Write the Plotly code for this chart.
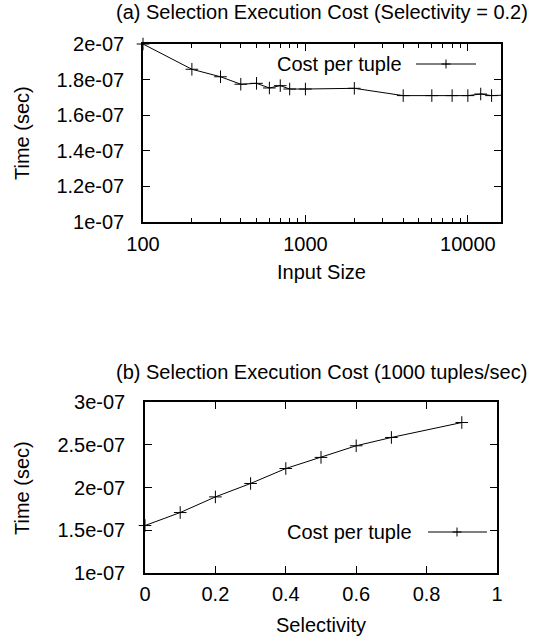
import plotly.graph_objects as go

# ---- data ----
input_sizes = [100, 200, 300, 400, 500, 600, 700, 800, 1000, 2000, 4000, 6000, 8000, 10000, 12000, 14000, 16000]
cost_a = [2.0e-7, 1.858e-7, 1.816e-7, 1.774e-7, 1.779e-7, 1.753e-7, 1.766e-7, 1.747e-7, 1.747e-7,
          1.751e-7, 1.710e-7, 1.710e-7, 1.710e-7, 1.710e-7, 1.719e-7, 1.710e-7, 1.712e-7]

selectivity = [0.0, 0.1, 0.2, 0.3, 0.4, 0.5, 0.6, 0.7, 0.9]
cost_b = [1.555e-7, 1.707e-7, 1.890e-7, 2.047e-7, 2.222e-7, 2.352e-7, 2.488e-7, 2.585e-7, 2.760e-7]

ya_vals = [1e-7, 1.2e-7, 1.4e-7, 1.6e-7, 1.8e-7, 2e-7]
ya_text = ["1e-07", "1.2e-07", "1.4e-07", "1.6e-07", "1.8e-07", "2e-07"]
xa_vals = [100, 1000, 10000]
xa_text = ["100", "1000", "10000"]
xa_minor = [200, 300, 400, 500, 600, 700, 800, 900, 2000, 3000, 4000, 5000, 6000, 7000, 8000, 9000]

yb_vals = [1e-7, 1.5e-7, 2e-7, 2.5e-7, 3e-7]
yb_text = ["1e-07", "1.5e-07", "2e-07", "2.5e-07", "3e-07"]
xb_vals = [0, 0.2, 0.4, 0.6, 0.8, 1.0]
xb_text = ["0", "0.2", "0.4", "0.6", "0.8", "1"]

legend_label = "Cost per tuple"
title_a = "(a) Selection Execution Cost (Selectivity = 0.2)"
title_b = "(b) Selection Execution Cost (1000 tuples/sec)"

# ---- geometry ----
W, H = 537, 640
FONT = dict(family="Liberation Sans, Arial, sans-serif", size=20, color="black")

def px_x(v):
    return v / W

def px_y(v):
    return 1 - v / H

A = dict(l=143, r=501, t=44, b=222)
B = dict(l=145, r=497, t=402, b=573)

fig = go.Figure()

line_style = dict(color="black", width=1)
marker_style = dict(symbol="cross-thin", size=9, line=dict(color="black", width=1), color="black")

fig.add_trace(go.Scatter(x=input_sizes, y=cost_a, mode="lines+markers", line=line_style,
                         marker=marker_style, xaxis="x", yaxis="y", showlegend=False, cliponaxis=False))
fig.add_trace(go.Scatter(x=selectivity, y=cost_b, mode="lines+markers", line=line_style,
                         marker=marker_style, xaxis="x2", yaxis="y2", showlegend=False, cliponaxis=False))

axis_common = dict(showline=True, linecolor="black", linewidth=1.5, mirror="allticks",
                   ticks="inside", ticklen=7, tickwidth=1, tickcolor="black", automargin=False,
                   showgrid=False, zeroline=False, tickfont=FONT)

fig.update_layout(
    template="none",
    width=W, height=H,
    margin=dict(l=0, r=0, t=0, b=0, autoexpand=False),
    paper_bgcolor="white", plot_bgcolor="white",
    font=FONT,
    xaxis=dict(domain=[px_x(A["l"]), px_x(A["r"])], anchor="y", type="log",
               range=[2, 4.2041], tickvals=xa_vals, ticktext=xa_text,
               minor=dict(tickvals=xa_minor, ticks="inside", ticklen=4, tickcolor="black", tickwidth=1),
               ticklabelstandoff=3, **axis_common),
    yaxis=dict(domain=[px_y(A["b"]), px_y(A["t"])], anchor="x", range=[1e-7, 2e-7],
               tickvals=ya_vals, ticktext=ya_text, ticklabelstandoff=13, **axis_common),
    xaxis2=dict(domain=[px_x(B["l"]), px_x(B["r"])], anchor="y2", range=[0, 1],
                tickvals=xb_vals, ticktext=xb_text, ticklabelstandoff=2, **axis_common),
    yaxis2=dict(domain=[px_y(B["b"]), px_y(B["t"])], anchor="x2", range=[1e-7, 3e-7],
                tickvals=yb_vals, ticktext=yb_text, ticklabelstandoff=14, **axis_common),
)

annotations = [
    dict(text=title_a, x=px_x(322), y=px_y(12), xanchor="center", yanchor="middle"),
    dict(text=title_b, x=px_x(321), y=px_y(372), xanchor="center", yanchor="middle"),
    dict(text="Time (sec)", x=px_x(22), y=px_y(133), textangle=-90, xanchor="center", yanchor="middle"),
    dict(text="Time (sec)", x=px_x(22), y=px_y(488), textangle=-90, xanchor="center", yanchor="middle"),
    dict(text="Input Size", x=px_x(321), y=px_y(272), xanchor="center", yanchor="middle"),
    dict(text="Selectivity", x=px_x(321), y=px_y(625), xanchor="center", yanchor="middle"),
    dict(text=legend_label, x=px_x(404), y=px_y(64), xanchor="right", yanchor="middle"),
    dict(text=legend_label, x=px_x(414), y=px_y(532), xanchor="right", yanchor="middle"),
]
for a in annotations:
    a.update(xref="paper", yref="paper", showarrow=False, font=FONT)
fig.update_layout(annotations=annotations)

# legend samples (line + cross)
shapes = []
for (x0, x1, xm, yy) in [(416, 476, 446, 64), (428, 487, 457, 532)]:
    shapes.append(dict(type="line", xref="paper", yref="paper", x0=px_x(x0), x1=px_x(x1),
                       y0=px_y(yy), y1=px_y(yy), line=dict(color="black", width=1)))
    shapes.append(dict(type="line", xref="paper", yref="paper", x0=px_x(xm - 4.5), x1=px_x(xm + 4.5),
                       y0=px_y(yy), y1=px_y(yy), line=dict(color="black", width=1)))
    shapes.append(dict(type="line", xref="paper", yref="paper", x0=px_x(xm), x1=px_x(xm),
                       y0=px_y(yy - 4.5), y1=px_y(yy + 4.5), line=dict(color="black", width=1)))
fig.update_layout(shapes=shapes)

fig.write_html("out.html")
